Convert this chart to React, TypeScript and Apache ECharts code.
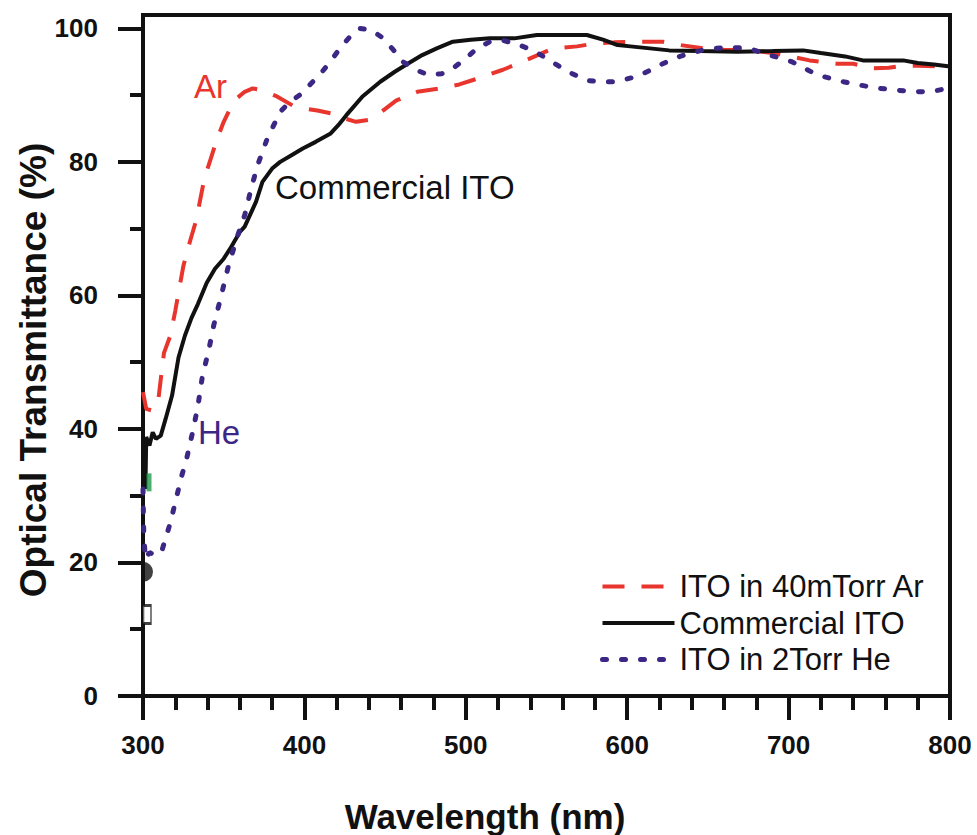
import React, { useEffect, useRef } from "react";
import * as echarts from "echarts";

// ---- Data ----
const arX = [300, 302, 305, 309, 313, 317, 320, 325, 329, 333, 338, 342, 346, 350, 354, 358, 363, 368, 373, 378, 383, 393, 400, 408, 418, 425, 432, 440, 445, 457, 470, 484, 496, 505, 511, 523, 537, 554, 569, 579, 592, 606, 622, 633, 647, 660, 678, 690, 701, 713, 730, 740, 752, 762, 771, 780, 792, 800];
const arY = [45.5, 43, 42.8, 43.4, 51.4, 54, 57.7, 64.4, 68, 71.3, 77.5, 80.5, 83.5, 86, 88, 89.5, 90.5, 91, 90.8, 90.3, 89.8, 88.4, 88, 87.7, 87.2, 86.5, 86, 86.3, 87, 89.2, 90.5, 91, 91.6, 92.3, 92.8, 93.8, 95.2, 97, 97.3, 97.7, 97.9, 98, 98, 97.5, 97, 96.8, 96.7, 96.3, 95.8, 95.2, 94.7, 94.7, 94, 94.1, 94.4, 94.4, 94.3, 94];

const comX = [300, 301, 301.5, 302, 304, 306, 308, 311, 314, 318, 322, 326, 330, 334, 339.5, 344.6, 350, 354, 360, 363, 370, 374, 380, 385, 392, 399, 407, 416, 421, 426, 436, 447, 456, 464, 473, 482, 492, 503, 515, 530, 544, 560, 575, 585, 594, 602, 614, 626, 645, 668, 690, 709, 720, 735, 746, 758, 771, 780, 790, 800];
const comY = [30.5, 36, 31, 38.8, 37.5, 39.5, 38.5, 39, 41.5, 45, 50.7, 54, 56.6, 58.7, 61.9, 64, 65.5, 67, 69.5, 70.3, 74, 77, 79, 80, 81, 82, 83, 84.2, 85.5, 87, 89.8, 92, 93.5, 94.7, 96, 97, 98, 98.3, 98.5, 98.5, 99, 99, 99, 98.3, 97.5, 97.3, 97, 96.7, 96.6, 96.5, 96.6, 96.7, 96.3, 95.8, 95.2, 95.2, 95.2, 94.8, 94.6, 94.3];

const heX = [300, 300.5, 301.5, 304, 308, 312, 317, 321, 324, 327, 331, 334, 337, 340.5, 343.8, 348, 352.5, 358, 363, 367, 371, 377, 385, 391, 397, 404, 410, 416, 422, 428, 434, 441, 449, 455, 461, 469, 477, 485, 492, 500, 507, 515, 523, 532, 541.6, 550, 558, 566, 575, 583, 591, 598, 606, 614, 622, 630, 638, 646, 654, 663, 671, 678, 685, 694, 702, 710, 718, 726, 734, 742, 749, 757, 765, 773, 781, 790, 798, 800];
const heY = [31, 24, 20.5, 21.5, 21, 22, 26, 30, 33, 35.5, 39.8, 43.4, 48.2, 51.5, 55.5, 59.5, 64, 68.5, 72, 76, 79.5, 83.5, 87.5, 89, 90, 91.7, 93.2, 95, 97, 98.7, 100, 99.8, 98.5, 96.8, 95, 93.8, 93, 93.2, 94, 95.5, 97, 98, 98.2, 97.6, 96.7, 95.5, 94.3, 93.2, 92.2, 92, 92, 92.3, 92.8, 93.7, 94.7, 95.6, 96.2, 96.7, 97, 97.1, 97.1, 96.8, 96.2, 95.6, 95, 94, 93, 92.5, 92, 91.6, 91.3, 91, 90.8, 90.6, 90.5, 90.6, 91, 91];

const seriesNames = ["ITO in 40mTorr Ar", "Commercial ITO", "ITO in 2Torr He"];
const xTicks = [300, 400, 500, 600, 700, 800];
const yMajorTicks = [0, 20, 40, 60, 80, 100];
const yMinorTicks = [10, 30, 50, 70, 90];
// stray markers at the left axis in the original figure
const blackDot = [300, 18.6];
const whiteBox = [300, 12.2];
const greenBox = [300, 32];

const RED = "#e8352d";
const PURPLE = "#3c2884";
const BLACK = "#111111";
const FONT = "'Liberation Sans', Arial, sans-serif";

const zip = (xs: number[], ys: number[]) => xs.map((x, i) => [x, ys[i]]);

export default function App() {
  const ref = useRef<HTMLDivElement>(null);
  useEffect(() => {
    if (!ref.current) return;
    const chart = echarts.init(ref.current, undefined, { renderer: "svg" });
    const axisLabel = { color: BLACK, fontSize: 26, fontWeight: "bold", fontFamily: FONT };
    chart.setOption({
      animation: false,
      backgroundColor: "#ffffff",
      grid: {
        left: 143,
        right: 27,
        top: 15,
        bottom: 139,
        show: true,
        borderColor: BLACK,
        borderWidth: 4,
        backgroundColor: "transparent",
      },
      xAxis: {
        type: "value",
        min: xTicks[0],
        max: xTicks[xTicks.length - 1],
        interval: 100,
        axisLine: { lineStyle: { color: BLACK, width: 4 } },
        axisTick: { length: 24, lineStyle: { color: BLACK, width: 4 } },
        minorTick: { show: true, splitNumber: 5, length: 14, lineStyle: { color: BLACK, width: 4 } },
        splitLine: { show: false },
        minorSplitLine: { show: false },
        axisLabel: { ...axisLabel, margin: 36 },
      },
      yAxis: [
        {
          type: "value",
          min: 0,
          max: 102,
          axisLine: { lineStyle: { color: BLACK, width: 4 } },
          axisTick: { length: 25, customValues: yMajorTicks, lineStyle: { color: BLACK, width: 4 } },
          axisLabel: { ...axisLabel, margin: 45, customValues: yMajorTicks },
          splitLine: { show: false },
        },
        {
          type: "value",
          min: 0,
          max: 102,
          position: "left",
          axisLine: { show: false },
          axisTick: { length: 13, customValues: yMinorTicks, lineStyle: { color: BLACK, width: 4 } },
          axisLabel: { show: false },
          splitLine: { show: false },
        },
      ],
      legend: {
        orient: "vertical",
        left: 600,
        top: 571,
        padding: 0,
        itemWidth: 72,
        itemHeight: 14,
        itemGap: 5.5,
        itemStyle: { opacity: 0, color: "transparent", borderWidth: 0 },
        textStyle: { color: BLACK, fontSize: 31, fontFamily: FONT, lineHeight: 31 },
        data: [
          { name: seriesNames[0], lineStyle: { width: 4 } },
          { name: seriesNames[1], lineStyle: { width: 4 } },
          { name: seriesNames[2], lineStyle: { width: 5 } },
        ],
      },
      series: [
        {
          name: seriesNames[0],
          type: "line",
          symbol: "none",
          data: zip(arX, arY),
          lineStyle: { color: RED, width: 4, type: [22, 17] },
          itemStyle: { color: RED },
          z: 3,
        },
        {
          name: seriesNames[1],
          type: "line",
          symbol: "none",
          data: zip(comX, comY),
          lineStyle: { color: BLACK, width: 4 },
          itemStyle: { color: BLACK },
          z: 4,
        },
        {
          name: seriesNames[2],
          type: "line",
          symbol: "none",
          data: zip(heX, heY),
          lineStyle: { color: PURPLE, width: 5, type: [4, 15], cap: "round" },
          itemStyle: { color: PURPLE },
          z: 5,
        },
        {
          type: "scatter",
          data: [blackDot],
          symbol: "path://M0,0 A10,10 0 0 1 0,20 Z",
          symbolSize: [10, 20],
          symbolOffset: [5, 0],
          itemStyle: { color: BLACK },
          z: 6,
        },
        {
          type: "scatter",
          data: [whiteBox],
          symbol: "rect",
          symbolSize: [8, 18],
          symbolOffset: [4, 0],
          itemStyle: { color: "#ffffff", borderColor: BLACK, borderWidth: 2 },
          z: 6,
        },
        {
          type: "scatter",
          data: [greenBox],
          symbol: "rect",
          symbolSize: [5, 18],
          symbolOffset: [6, 0],
          itemStyle: { color: "#1f9a4a" },
          z: 6,
        },
      ],
      graphic: [
        {
          type: "text",
          x: 485,
          y: 816,
          style: { text: "Wavelength (nm)", fill: BLACK, font: `bold 35px ${FONT}`, align: "center", verticalAlign: "middle" },
        },
        {
          type: "text",
          x: 33,
          y: 370,
          rotation: Math.PI / 2,
          style: { text: "Optical Transmittance (%)", fill: BLACK, font: `bold 37px ${FONT}`, align: "center", verticalAlign: "middle" },
        },
        {
          type: "text",
          x: 194,
          y: 86,
          style: { text: "Ar", fill: RED, font: `33px ${FONT}`, align: "left", verticalAlign: "middle" },
        },
        {
          type: "text",
          x: 275,
          y: 187,
          style: { text: "Commercial ITO", fill: BLACK, font: `33px ${FONT}`, align: "left", verticalAlign: "middle" },
        },
        {
          type: "text",
          x: 198,
          y: 432,
          style: { text: "He", fill: PURPLE, font: `33px ${FONT}`, align: "left", verticalAlign: "middle" },
        },
      ],
    });
    return () => chart.dispose();
  }, []);
  return <div ref={ref} style={{ position: "absolute", left: 0, top: 0, width: 977, height: 835 }} />;
}
